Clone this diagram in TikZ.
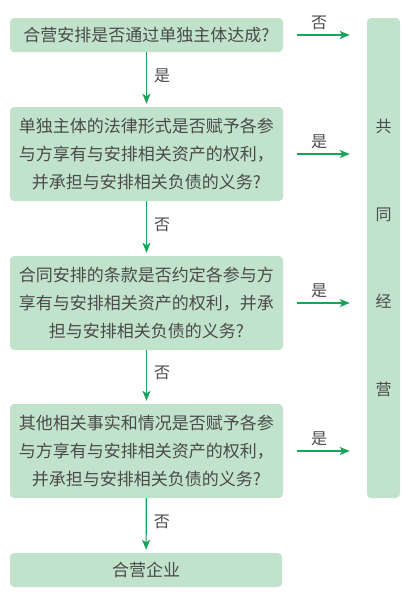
\documentclass[tikz,border=0pt]{standalone}
\usepackage{fontspec}
\usepackage{xcolor}
\usepackage{tikz}
\usetikzlibrary{arrows.meta}
\newfontfamily\cjk{Noto Sans CJK SC}
\definecolor{boxG}{HTML}{C2E3CB}
\definecolor{arrG}{HTML}{1AA35A}
\definecolor{txtG}{HTML}{4A4A4A}

\begin{document}
\begin{tikzpicture}[x=1pt, y=-1pt, font=\cjk\fontsize{17}{28}\selectfont, text=txtG,
  qbox/.style={fill=boxG, rounded corners=4pt, minimum width=273pt,
    align=center, inner sep=0pt},
  flowarr/.style={draw=arrG, line width=1.2pt,
    -{Stealth[length=10pt, width=8pt, inset=2.5pt]}},
  lbl/.style={font=\cjk\fontsize{16}{18}\selectfont, text=txtG, inner sep=2pt}]
  \path[use as bounding box] (0,0) rectangle (409,608);

  % question boxes, top to bottom
  \node[qbox, minimum height=34pt] (q1) at (146.5,35)
    {合营安排是否通过单独主体达成?};
  \node[qbox, minimum height=94pt] (q2) at (146.5,154)
    {单独主体的法律形式是否赋予各参\\与方享有与安排相关资产的权利，\\并承担与安排相关负债的义务?};
  \node[qbox, minimum height=94pt] (q3) at (146.5,303)
    {合同安排的条款是否约定各参与方\\享有与安排相关资产的权利，并承\\担与安排相关负债的义务?};
  \node[qbox, minimum height=94pt] (q4) at (146.5,451)
    {其他相关事实和情况是否赋予各参\\与方享有与安排相关资产的权利，\\并承担与安排相关负债的义务?};
  \node[qbox, minimum height=34pt, minimum width=272pt] (jv) at (146,570) {合营企业};

  % result column on the right
  \node[fill=boxG, rounded corners=4pt, minimum width=33pt, minimum height=480pt,
    align=center, inner sep=0pt, font=\cjk\fontsize{16}{87.5}\selectfont]
    (jo) at (383.5,258) {共\\同\\经\\营};

  % "no" path down the left
  \draw[flowarr, shorten >=3pt] (q1) -- node[lbl, right=5pt, yshift=4pt] {是} (q2);
  \draw[flowarr, shorten >=3pt] (q2) -- node[lbl, right=5pt, yshift=4pt] {否} (q3);
  \draw[flowarr, shorten >=3pt] (q3) -- node[lbl, right=5pt, yshift=4pt] {否} (q4);
  \draw[flowarr, shorten >=3pt] (q4) -- node[lbl, right=5pt, yshift=4pt] {否} (jv);

  % arrows across to the joint operation column
  \draw[flowarr, shorten <=14pt, shorten >=17pt] (q1.east) --
    node[lbl, above=3pt, xshift=-6pt] {否} (q1.east -| jo.west);
  \foreach \q in {q2,q3,q4}{
    \draw[flowarr, shorten <=14pt, shorten >=17pt] (\q.east) --
      node[lbl, above=3pt, xshift=-6pt] {是} (\q.east -| jo.west);
  }
\end{tikzpicture}
\end{document}
